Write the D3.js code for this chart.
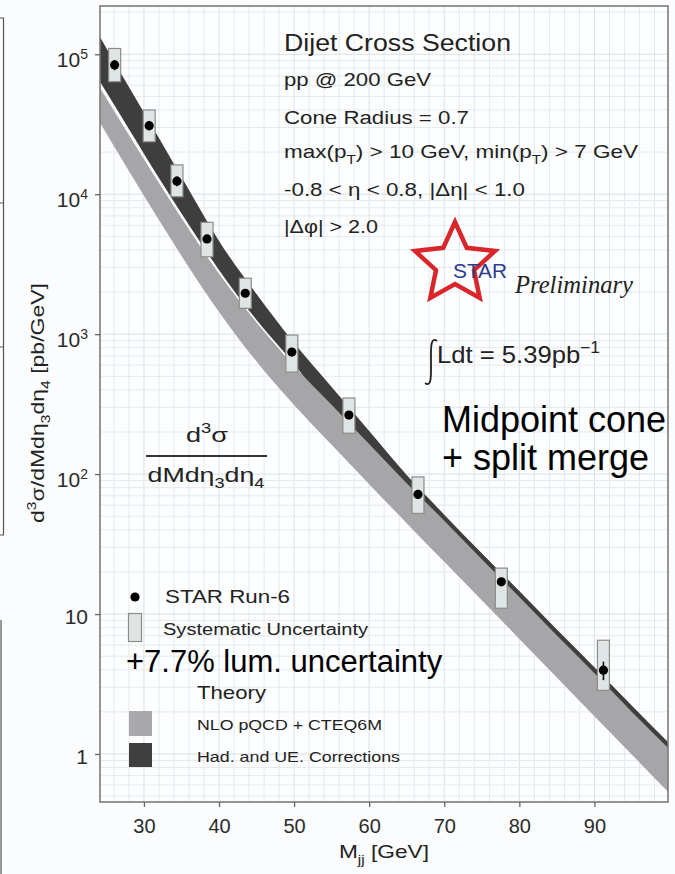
<!DOCTYPE html>
<html>
<head>
<meta charset="utf-8">
<script src="https://cdn.jsdelivr.net/npm/d3@7"></script>
<style>
  body { margin: 0; background: #fbfcfd; }
  svg { display: block; font-family: "Liberation Sans", Arial, sans-serif; }
</style>
</head>
<body>
<div class="chart-container"></div>
<script>
var width = 675;
var height = 874;
var plot = { left: 100, right: 668, top: 6, bottom: 802 };

// measured dijet cross section (STAR Run-6)
var massBins = [26.1, 30.7, 34.4, 38.4, 43.5, 49.7, 57.3, 66.5, 77.6, 91.2];
var crossSection = [83900, 30900, 12400, 4790, 1960, 745, 264, 71.6, 17.0, 3.97];
var statError = [7000, 2400, 1000, 300, 110, 35, 12, 3.5, 1.1, 0.6];
var sysLow = [63700, 23700, 9600, 3570, 1530, 536, 196, 52.4, 11.0, 2.85];
var sysHigh = [110000, 40000, 16200, 6300, 2510, 986, 350, 95.5, 21.3, 6.5];

// theory bands
var theoryMass = [24, 28, 32, 36, 40, 45, 50, 55, 60, 65, 70, 75, 80, 85, 90, 95, 100];
var hadHigh = [137400, 58300, 25200, 10715, 4630, 1934, 864, 419, 203, 98.4, 51.3, 27.2, 14.63, 7.75, 4.17, 2.21, 1.19];
var hadLow = [65500, 29240, 13050, 6024, 2872, 1262, 611, 268.5, 139, 73.1, 39.8, 20.9, 11.4, 6.00, 3.21, 1.72, 0.918];
var nloHigh = [59350, 26500, 12030, 5604, 2698, 1214, 593.5, 313.4, 163.9, 86.2, 46.4, 24.6, 13.25, 7.02, 3.78, 2.00, 1.08];
var nloLow = [33400, 14650, 6540, 2998, 1443, 639, 312.3, 162.3, 84.8, 44.6, 23.6, 12.53, 6.64, 3.52, 1.86, 0.987, 0.523];

var xTicks = [30, 40, 50, 60, 70, 80, 90];
var yTicks = [1, 10, 100, 1000, 10000, 100000];

var svg = d3.select(".chart-container").append("svg")
  .attr("width", width).attr("height", height);

var x = d3.scaleLinear().domain([24.15, 99.8]).range([plot.left, plot.right]);
var y = d3.scaleLog().domain([0.454, 221300]).range([plot.bottom, plot.top]);

// little bits of the neighbouring figure on the left edge
var edge = svg.append("g").style("stroke", "#555").style("stroke-width", 1.2);
edge.append("path").attr("d", "M0,18 H3.5 V535 H0 M0,203 H3.5 M0,347 H3.5").style("fill", "none");
edge.append("line").attr("x1", 1).attr("x2", 1).attr("y1", 620).attr("y2", 874);

svg.append("defs").append("clipPath").attr("id", "plotclip")
  .append("rect").attr("x", plot.left).attr("y", plot.top)
  .attr("width", plot.right - plot.left).attr("height", plot.bottom - plot.top);

svg.append("rect").attr("x", plot.left).attr("y", plot.top)
  .attr("width", plot.right - plot.left).attr("height", plot.bottom - plot.top)
  .style("fill", "#fdfeff");

// grid
var grid = svg.append("g").attr("clip-path", "url(#plotclip)");
grid.selectAll(".vg").data(d3.range(26, 100, 2)).enter().append("line")
  .attr("x1", d => x(d)).attr("x2", d => x(d))
  .attr("y1", plot.top).attr("y2", plot.bottom)
  .style("stroke", d => d % 10 == 0 ? "#dcdfe2" : "#e6e8ea").style("stroke-width", 1);
grid.selectAll(".hg").data(y.ticks()).enter().append("line")
  .attr("x1", plot.left).attr("x2", plot.right)
  .attr("y1", d => y(d)).attr("y2", d => y(d))
  .style("stroke", d => yTicks.indexOf(d) >= 0 ? "#dcdfe2" : "#e6e8ea").style("stroke-width", 1);

// theory bands
var bands = svg.append("g").attr("clip-path", "url(#plotclip)");
var band = d3.area().curve(d3.curveMonotoneX)
  .x(d => x(d.m)).y0(d => y(d.lo)).y1(d => y(d.hi));
bands.append("path")
  .datum(theoryMass.map((m, i) => ({ m: m, lo: hadLow[i], hi: hadHigh[i] })))
  .attr("d", band).style("fill", "#3e3e3f");
bands.append("path")
  .datum(theoryMass.map((m, i) => ({ m: m, lo: nloLow[i], hi: nloHigh[i] })))
  .attr("d", band).style("fill", "#a6a6a9");

// data
var points = massBins.map((m, i) => ({
  m: m, v: crossSection[i], e: statError[i], lo: sysLow[i], hi: sysHigh[i]
}));
var dg = svg.append("g").attr("clip-path", "url(#plotclip)");
dg.selectAll(".sys").data(points).enter().append("rect")
  .attr("x", d => x(d.m) - 6).attr("width", 12)
  .attr("y", d => y(d.hi)).attr("height", d => y(d.lo) - y(d.hi))
  .style("fill", "#dfe4e5").style("stroke", "#8c8c8c").style("stroke-width", 1.2);
dg.selectAll(".stat").data(points).enter().append("line")
  .attr("x1", d => x(d.m)).attr("x2", d => x(d.m))
  .attr("y1", d => y(d.v + d.e)).attr("y2", d => y(d.v - d.e))
  .style("stroke", "#111").style("stroke-width", 1.6);
dg.selectAll(".pt").data(points).enter().append("circle")
  .attr("cx", d => x(d.m)).attr("cy", d => y(d.v)).attr("r", 4.6)
  .style("fill", "#000");

// frame and axes
svg.append("rect").attr("x", plot.left).attr("y", plot.top)
  .attr("width", plot.right - plot.left).attr("height", plot.bottom - plot.top)
  .style("fill", "none").style("stroke", "#7a7a7a").style("stroke-width", 1.6);

var xAxis = svg.append("g").attr("transform", "translate(0," + plot.bottom + ")")
  .call(d3.axisBottom(x).tickValues(xTicks).tickSize(5).tickPadding(12));
xAxis.select(".domain").remove();
xAxis.selectAll("line").style("stroke", "#666").style("stroke-width", 1.3);
xAxis.selectAll("text").style("font-size", "20px").style("fill", "#2b2b2b")
  .style("font-family", "'Liberation Sans', Arial, sans-serif");

var yAxis = svg.append("g").attr("transform", "translate(" + plot.left + ",0)")
  .call(d3.axisLeft(y).tickValues(yTicks).tickSize(5).tickFormat(""));
yAxis.select(".domain").remove();
yAxis.selectAll("line").style("stroke", "#666").style("stroke-width", 1.3);
yAxis.selectAll(".tick").each(function (d) {
  var e = Math.round(Math.log10(d));
  var t = d3.select(this).append("text").attr("x", -12).attr("text-anchor", "end")
    .style("font-size", "21px").style("fill", "#2b2b2b")
    .style("font-family", "'Liberation Sans', Arial, sans-serif");
  if (e <= 1) {
    t.attr("y", 9).text(d);
  } else {
    t.attr("y", 12);
    t.append("tspan").text("10");
    t.append("tspan").attr("dy", -8).style("font-size", "14px").text(e);
  }
});

// rich text helper: parts are strings or {t, sub|sup}
function richText(parent, parts, o) {
  var t = parent.append("text").attr("x", o.x).attr("y", o.y)
    .attr("text-anchor", o.anchor || "start")
    .style("font-size", o.size + "px").style("fill", o.color || "#222");
  if (o.family) t.style("font-family", o.family);
  if (o.italic) t.style("font-style", "italic");
  if (o.transform) t.attr("transform", o.transform);
  var shift = 0;
  parts.forEach(function (p) {
    if (typeof p == "string") p = { t: p };
    var target = p.sub ? o.size * 0.3 : p.sup ? -o.size * 0.42 : 0;
    t.append("tspan").attr("dy", target - shift)
      .style("font-size", (p.sub || p.sup ? o.size * 0.68 : o.size) + "px").text(p.t);
    shift = target;
  });
  if (o.len) t.attr("textLength", o.len).attr("lengthAdjust", "spacingAndGlyphs");
  return t;
}

var notes = svg.append("g");
richText(notes, ["Dijet Cross Section"], { x: 284, y: 51, size: 23, len: 227 });
richText(notes, ["pp @ 200 GeV"], { x: 284, y: 86, size: 19, len: 147 });
richText(notes, ["Cone Radius = 0.7"], { x: 284, y: 124, size: 19, len: 185 });
richText(notes, ["max(p", { t: "T", sub: true }, ") > 10 GeV, min(p", { t: "T", sub: true }, ") > 7 GeV"],
  { x: 284, y: 158, size: 19, len: 354 });
richText(notes, ["-0.8 < η < 0.8, |Δη| < 1.0"], { x: 284, y: 196, size: 19, len: 241 });
richText(notes, ["|Δφ| > 2.0"], { x: 284, y: 233, size: 19, len: 94 });

// STAR logo
var cx = 455, cy = 264, R = 42, r = 20;
var star = d3.range(10).map(function (k) {
  var a = -Math.PI / 2 + k * Math.PI / 5, rad = k % 2 ? r : R;
  return [cx + rad * Math.cos(a), cy + rad * Math.sin(a)];
});
notes.append("path").attr("d", d3.line()(star) + "Z")
  .style("fill", "none").style("stroke", "#d9262b").style("stroke-width", 4.5)
  .style("stroke-linejoin", "miter");
richText(notes, ["STAR"], { x: 453, y: 278, size: 20, len: 54, color: "#2e3c8f" });
richText(notes, ["Preliminary"], { x: 515, y: 293, size: 25, len: 118, italic: true,
  family: "'Liberation Serif', 'Times New Roman', serif", color: "#222" });

notes.append("path").attr("d", "M437,341 C430,336 431,350 431,362 C431,374 432,388 425,383")
  .style("fill", "none").style("stroke", "#222").style("stroke-width", 1.8);
richText(notes, ["Ldt = 5.39pb", { t: "−1", sup: true }], { x: 437, y: 363, size: 24, len: 163 });

richText(notes, ["Midpoint cone"], { x: 442, y: 432, size: 36, color: "#000" });
richText(notes, ["+ split merge"], { x: 442, y: 470, size: 36, color: "#000" });

// fraction
richText(notes, ["d", { t: "3", sup: true }, "σ"], { x: 207, y: 442, size: 21, anchor: "middle", len: 42 });
notes.append("line").attr("x1", 146).attr("x2", 267).attr("y1", 456).attr("y2", 456)
  .style("stroke", "#333").style("stroke-width", 2);
richText(notes, ["dMdη", { t: "3", sub: true }, "dη", { t: "4", sub: true }],
  { x: 206, y: 482, size: 21, anchor: "middle", len: 117 });

// axis titles
richText(svg, ["d", { t: "3", sup: true }, "σ/dMdη", { t: "3", sub: true }, "dη", { t: "4", sub: true }, " [pb/GeV]"],
  { x: 0, y: 0, size: 19, anchor: "middle", len: 240, transform: "translate(44,403) rotate(-90)" });
richText(svg, ["M", { t: "jj", sub: true }, " [GeV]"], { x: 384, y: 858, size: 19, anchor: "middle", len: 90 });

// legend
var legend = svg.append("g");
legend.append("circle").attr("cx", 135).attr("cy", 597).attr("r", 4.6).style("fill", "#000");
richText(legend, ["STAR Run-6"], { x: 165, y: 603, size: 18, len: 125 });
legend.append("rect").attr("x", 128.5).attr("y", 613.5).attr("width", 13).attr("height", 28)
  .style("fill", "#dfe4e5").style("stroke", "#8c8c8c").style("stroke-width", 1.2);
richText(legend, ["Systematic Uncertainty"], { x: 163, y: 635, size: 16, len: 205 });
richText(legend, ["+7.7% lum. uncertainty"], { x: 126, y: 672, size: 31, color: "#000" });
richText(legend, ["Theory"], { x: 197, y: 699, size: 19, len: 69 });
legend.append("rect").attr("x", 129).attr("y", 711).attr("width", 23).attr("height", 25)
  .style("fill", "#a9a9ab");
richText(legend, ["NLO pQCD + CTEQ6M"], { x: 197, y: 730, size: 15, len: 185 });
legend.append("rect").attr("x", 129).attr("y", 743).attr("width", 23).attr("height", 24)
  .style("fill", "#3f3f40");
richText(legend, ["Had. and UE. Corrections"], { x: 197, y: 762, size: 15, len: 203 });
</script>
</body>
</html>
